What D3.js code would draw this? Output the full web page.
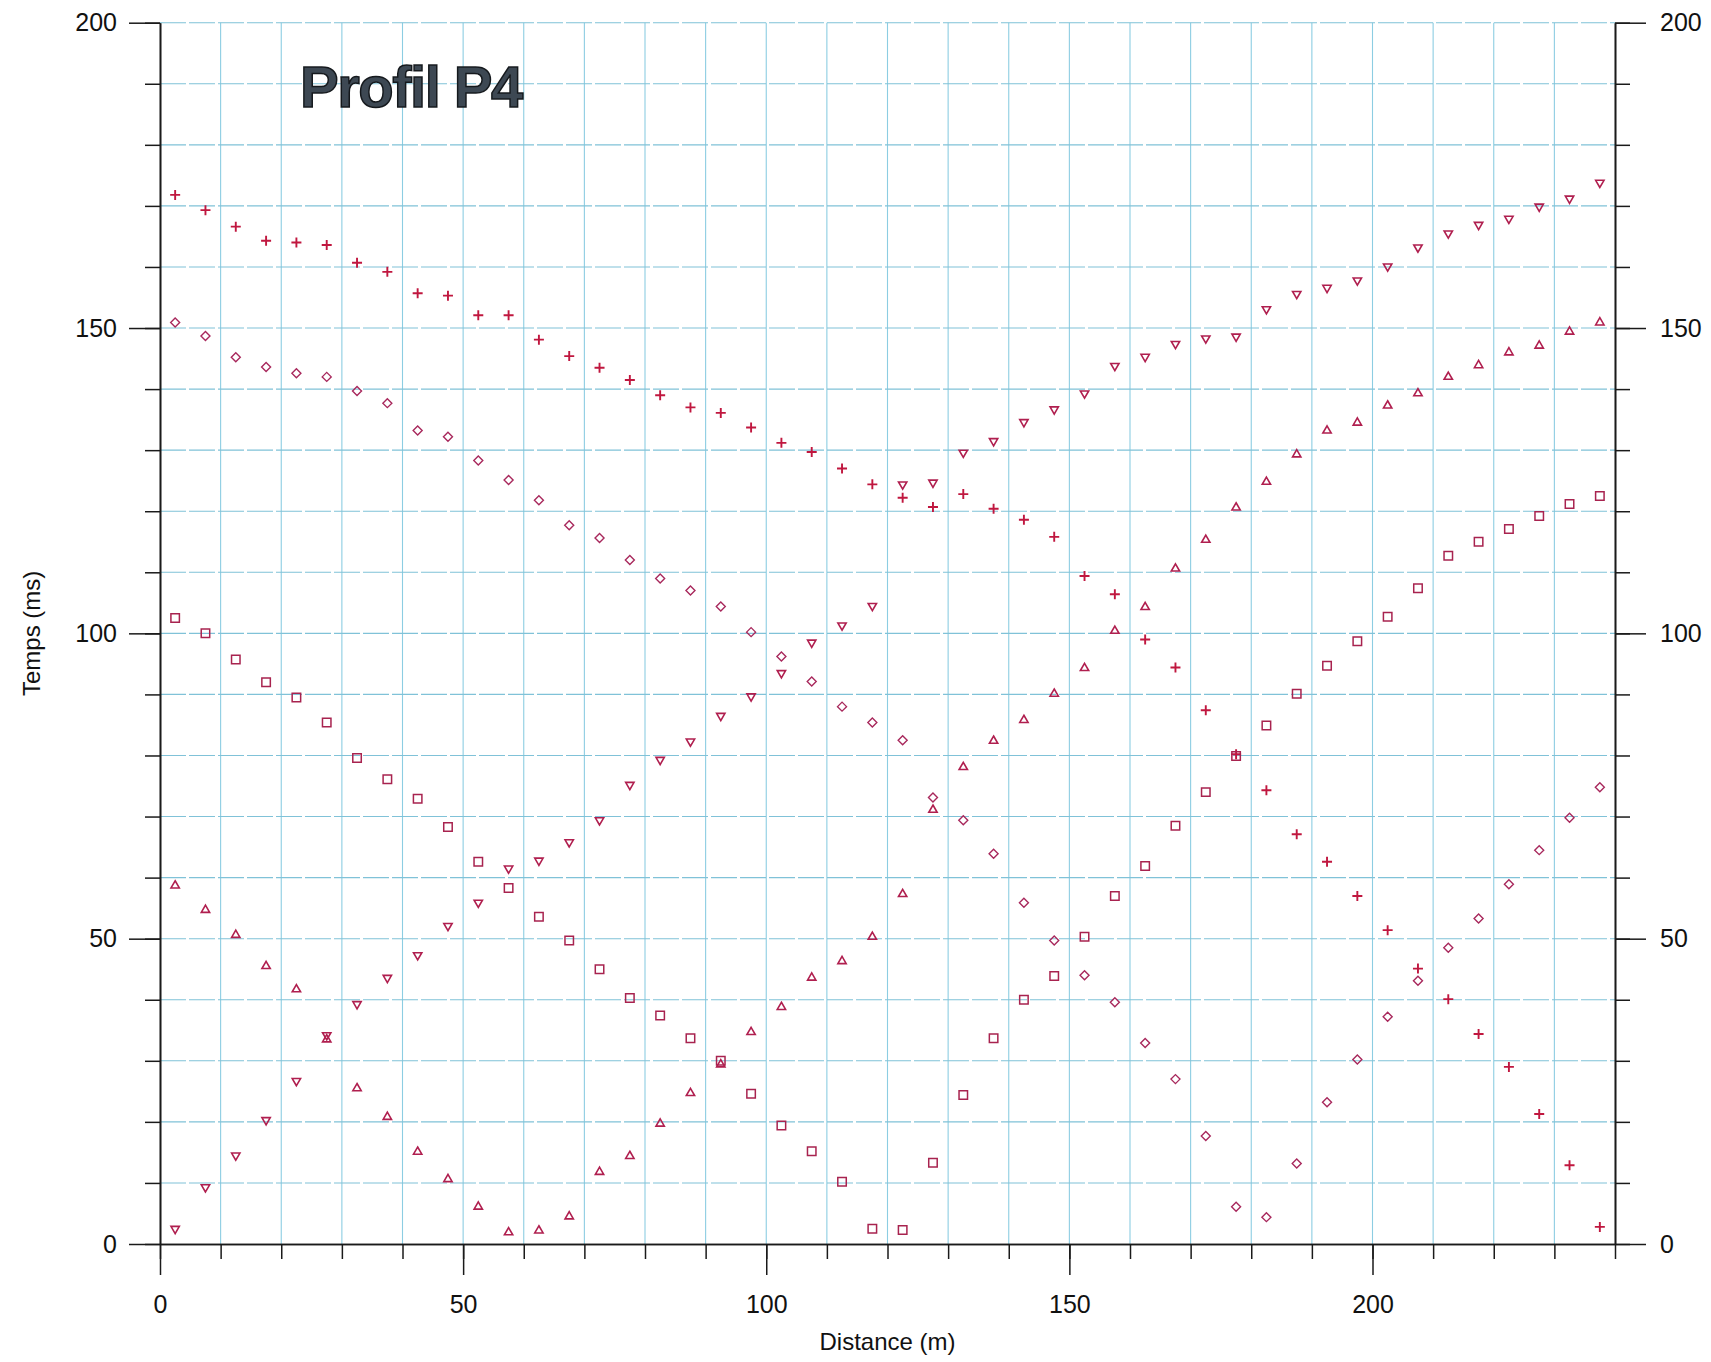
<!DOCTYPE html>
<html lang="fr">
<head>
<meta charset="UTF-8">
<title>Profil P4</title>
<script src="https://cdn.jsdelivr.net/npm/d3@7"></script>
<style>
    body { margin: 0; background: #fff; }
    svg { display: block; font-family: "Liberation Sans", Arial, sans-serif; }
</style>
</head>
<body>
<div id="chart"></div>
<script>
// positions des géophones (m)
const distance = [2.5, 7.5, 12.5, 17.5, 22.5, 27.5, 32.5, 37.5, 42.5, 47.5, 52.5, 57.5,
    62.5, 67.5, 72.5, 77.5, 82.5, 87.5, 92.5, 97.5, 102.5, 107.5, 112.5, 117.5,
    122.5, 127.5, 132.5, 137.5, 142.5, 147.5, 152.5, 157.5, 162.5, 167.5, 172.5, 177.5,
    182.5, 187.5, 192.5, 197.5, 202.5, 207.5, 212.5, 217.5, 222.5, 227.5, 232.5, 237.5];

// temps de première arrivée (ms), un tableau par tir
const tirPlus = [171.8, 169.3, 166.6, 164.3, 164.0, 163.6, 160.7, 159.2, 155.7, 155.3, 152.1, 152.1,
    148.1, 145.4, 143.5, 141.5, 139.0, 137.0, 136.1, 133.7, 131.2, 129.7, 127.0, 124.4,
    122.2, 120.7, 122.8, 120.4, 118.6, 115.8, 109.4, 106.4, 99.0, 94.4, 87.4, 80.2,
    74.3, 67.1, 62.6, 57.0, 51.4, 45.1, 40.1, 34.4, 29.0, 21.3, 12.9, 2.8];

const tirLosange = [150.9, 148.7, 145.2, 143.6, 142.6, 142.0, 139.7, 137.7, 133.2, 132.2, 128.3, 125.1,
    121.8, 117.7, 115.6, 112.0, 109.0, 107.0, 104.4, 100.2, 96.2, 92.1, 88.0, 85.4,
    82.5, 73.1, 69.4, 63.9, 55.9, 49.7, 44.0, 39.6, 32.9, 27.0, 17.7, 6.1,
    4.4, 13.2, 23.2, 30.2, 37.2, 43.1, 48.5, 53.3, 58.9, 64.5, 69.8, 74.8];

const tirCarre = [102.5, 100.0, 95.7, 92.0, 89.5, 85.4, 79.6, 76.1, 72.9, 68.3, 62.6, 58.3,
    53.6, 49.7, 45.0, 40.3, 37.4, 33.7, 30.0, 24.6, 19.4, 15.2, 10.2, 2.5,
    2.3, 13.3, 24.4, 33.7, 40.0, 43.9, 50.3, 57.0, 61.9, 68.5, 74.0, 79.9,
    84.9, 90.1, 94.7, 98.7, 102.7, 107.4, 112.7, 115.0, 117.1, 119.2, 121.2, 122.5];

const tirTriangle = [58.7, 54.7, 50.6, 45.5, 41.7, 33.5, 25.5, 20.8, 15.1, 10.6, 6.1, 1.9,
    2.2, 4.5, 11.8, 14.4, 19.7, 24.7, 29.4, 34.7, 38.8, 43.6, 46.3, 50.3,
    57.3, 71.1, 78.1, 82.4, 85.8, 90.1, 94.3, 100.4, 104.3, 110.6, 115.3, 120.6,
    124.8, 129.3, 133.2, 134.5, 137.3, 139.3, 142.0, 143.9, 146.0, 147.1, 149.4, 150.9];

const tirTriangleInv = [2.5, 9.3, 14.5, 20.3, 26.7, 34.2, 39.3, 43.6, 47.3, 52.1, 55.9, 61.5,
    62.8, 65.8, 69.4, 75.2, 79.3, 82.3, 86.5, 89.7, 93.5, 98.5, 101.3, 104.5,
    124.4, 124.7, 129.6, 131.5, 134.6, 136.7, 139.3, 143.8, 145.3, 147.4, 148.3, 148.6,
    153.1, 155.6, 156.6, 157.8, 160.1, 163.2, 165.5, 166.9, 167.9, 169.9, 171.2, 173.8];

const xTicks = [0, 50, 100, 150, 200];
const yTicks = [0, 50, 100, 150, 200];

const width = 1711, height = 1362;

const x = d3.scaleLinear().domain([0, 240]).range([160, 1615]);
const y = d3.scaleLinear().domain([0, 200]).range([1244, 22.7]);

const svg = d3.select("#chart").append("svg")
    .attr("width", width)
    .attr("height", height)
    .attr("viewBox", [0, 0, width, height]);

svg.append("rect").attr("width", width).attr("height", height).attr("fill", "#fff");

// quadrillage bleu (papier millimétré)
const grid = svg.append("g").attr("stroke", "#8ccde2").attr("stroke-width", 1.1);
grid.selectAll("line.v")
    .data(d3.range(10, 240, 10))
    .join("line")
    .attr("x1", d => x(d)).attr("x2", d => x(d))
    .attr("y1", y(200)).attr("y2", y(0));
grid.selectAll("line.h")
    .data(d3.range(10, 201, 10))
    .join("line")
    .attr("x1", x(0)).attr("x2", x(240))
    .attr("y1", d => y(d)).attr("y2", d => y(d))
    .attr("stroke", "#80c2d8")
    .attr("stroke-dasharray", "26,3");

// titre
svg.append("text")
    .attr("x", x(23.1))
    .attr("y", y(186.2))
    .attr("font-size", 58)
    .attr("font-weight", "bold")
    .attr("letter-spacing", -1.5)
    .attr("fill", "#3d4853")
    .attr("stroke", "#15191d")
    .attr("stroke-width", 1.5)
    .text("Profil P4");

// axes
const minorY = d3.range(0, 201, 10);
const minorX = d3.range(0, 241, 10);

function styleAxis(g) {
    g.selectAll("path.domain").attr("stroke", "#1a1a1a").attr("stroke-width", 1.6);
    g.selectAll(".tick line").attr("stroke", "#1a1a1a").attr("stroke-width", 1.5);
    g.selectAll(".tick text").attr("font-size", 25).attr("fill", "#111")
        .attr("font-family", "'Liberation Sans', Arial, sans-serif");
}

svg.append("g").attr("transform", `translate(${x(0)},0)`)
    .call(d3.axisLeft(y).tickValues(minorY).tickSize(15).tickSizeOuter(0).tickFormat(""))
    .call(styleAxis);
svg.append("g").attr("transform", `translate(${x(0)},0)`)
    .call(d3.axisLeft(y).tickValues(yTicks).tickSize(31).tickSizeOuter(0).tickPadding(12))
    .call(styleAxis);

svg.append("g").attr("transform", `translate(${x(240)},0)`)
    .call(d3.axisRight(y).tickValues(minorY).tickSize(15).tickSizeOuter(0).tickFormat(""))
    .call(styleAxis);
svg.append("g").attr("transform", `translate(${x(240)},0)`)
    .call(d3.axisRight(y).tickValues(yTicks).tickSize(31).tickSizeOuter(0).tickPadding(14))
    .call(styleAxis);

svg.append("g").attr("transform", `translate(0,${y(0)})`)
    .call(d3.axisBottom(x).tickValues(minorX).tickSize(15).tickSizeOuter(0).tickFormat(""))
    .call(styleAxis);
svg.append("g").attr("transform", `translate(0,${y(0)})`)
    .call(d3.axisBottom(x).tickValues(xTicks).tickSize(31).tickSizeOuter(0).tickPadding(20))
    .call(styleAxis);

// titres d'axes
svg.append("text")
    .attr("x", (x(0) + x(240)) / 2)
    .attr("y", 1350)
    .attr("text-anchor", "middle")
    .attr("font-size", 24)
    .attr("fill", "#111")
    .text("Distance (m)");

svg.append("text")
    .attr("transform", `translate(40,${(y(0) + y(200)) / 2}) rotate(-90)`)
    .attr("text-anchor", "middle")
    .attr("font-size", 24)
    .attr("fill", "#111")
    .text("Temps (ms)");

// symboles
const shapes = {
    plus: "M-5,0H5M0,-5V5",
    losange: "M0,-4.5L4.5,0L0,4.5L-4.5,0Z",
    carre: d3.symbol(d3.symbolSquare, 72)(),
    triangle: d3.symbol(d3.symbolTriangle, 30)(),
    triangleInv: d3.symbol(d3.symbolTriangle, 30)()
};

const series = [
    {key: "plus", values: tirPlus, color: "#c0173f", width: 1.9, rotate: 0},
    {key: "losange", values: tirLosange, color: "#a8285c", width: 1.4, rotate: 0},
    {key: "carre", values: tirCarre, color: "#a8234f", width: 1.5, rotate: 0},
    {key: "triangle", values: tirTriangle, color: "#b01f4f", width: 1.6, rotate: 0},
    {key: "triangleInv", values: tirTriangleInv, color: "#b01f4f", width: 1.6, rotate: 180}
];

series.forEach(s => {
    svg.append("g")
        .attr("fill", "none")
        .attr("stroke", s.color)
        .attr("stroke-width", s.width)
        .selectAll("path")
        .data(s.values.map((v, i) => [distance[i], v]))
        .join("path")
        .attr("d", shapes[s.key])
        .attr("transform", d => `translate(${x(d[0])},${y(d[1])}) rotate(${s.rotate})`);
});
</script>
</body>
</html>
